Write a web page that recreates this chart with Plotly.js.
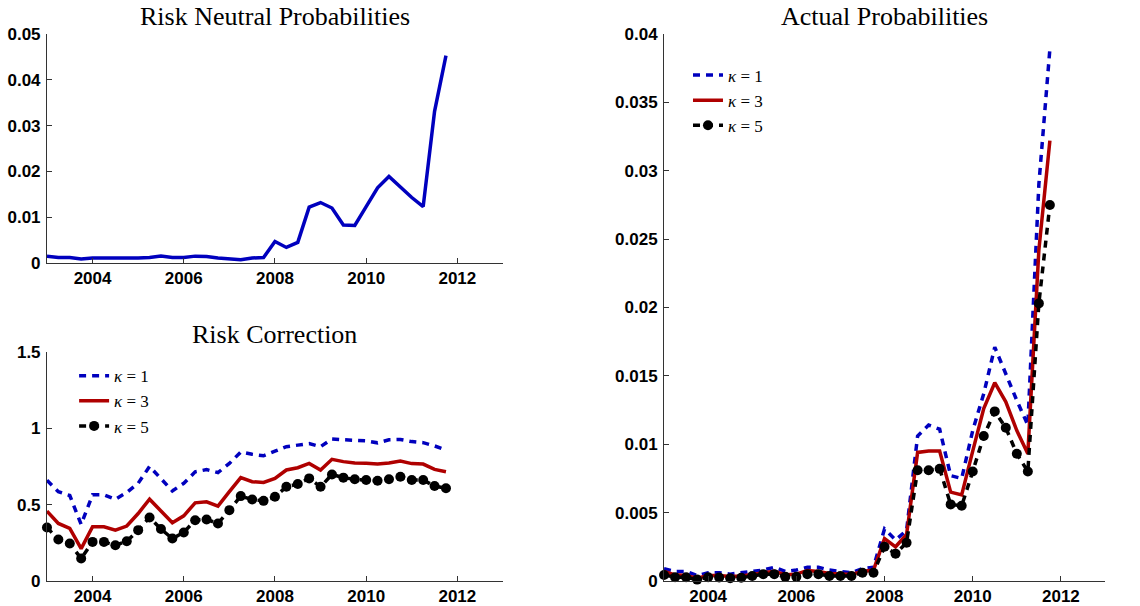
<!DOCTYPE html>
<html>
<head>
<meta charset="utf-8">
<script src="https://cdn.plot.ly/plotly-3.0.1.min.js"></script>
<style>html,body{margin:0;padding:0;background:#fff;}#chart{width:1140px;height:606px;}</style>
</head>
<body>
<div id="chart"></div>
<script>
// Quarterly dates
const dates = [2003.00,2003.25,2003.50,2003.75,2004.00,2004.25,2004.50,2004.75,
  2005.00,2005.25,2005.50,2005.75,2006.00,2006.25,2006.50,2006.75,
  2007.00,2007.25,2007.50,2007.75,2008.00,2008.25,2008.50,2008.75,
  2009.00,2009.25,2009.50,2009.75,2010.00,2010.25,2010.50,2010.75,
  2011.00,2011.25,2011.50,2011.75];

// Risk neutral probabilities
const riskNeutral = [0.0015,0.0012,0.0012,0.0009,0.0011,0.0011,0.0010,0.0010,
  0.0011,0.0012,0.0015,0.0012,0.0012,0.0015,0.0014,0.0011,
  0.0009,0.0007,0.0011,0.0012,0.0047,0.0034,0.0045,0.0122,
  0.0132,0.0120,0.0083,0.0082,0.0123,0.0164,0.0189,0.0165,
  0.0143,0.0123,0.0331,0.0453];

// Risk correction
const rcK1 = [0.66,0.585,0.56,0.37,0.565,0.565,0.535,0.58,0.64,0.75,0.67,0.59,
  0.64,0.715,0.73,0.71,0.77,0.845,0.83,0.82,0.85,0.88,0.89,0.90,
  0.88,0.93,0.925,0.92,0.918,0.905,0.925,0.927,0.913,0.906,0.885,0.858];
const rcK3 = [0.458,0.377,0.344,0.212,0.355,0.355,0.333,0.36,0.442,0.536,0.458,0.381,
  0.427,0.512,0.519,0.49,0.585,0.677,0.65,0.646,0.672,0.727,0.742,0.77,
  0.727,0.797,0.782,0.773,0.771,0.766,0.773,0.786,0.769,0.766,0.731,0.716];
const rcK5 = [0.35,0.272,0.245,0.147,0.256,0.256,0.234,0.26,0.333,0.416,0.34,0.278,
  0.318,0.398,0.403,0.377,0.464,0.556,0.534,0.525,0.552,0.617,0.635,0.672,
  0.617,0.698,0.677,0.666,0.661,0.657,0.666,0.683,0.661,0.661,0.622,0.607];

// Actual probabilities
const apK1 = [0.0009,0.0007,0.0007,0.0004,0.0006,0.0006,0.0005,0.0006,
  0.0007,0.0008,0.0010,0.0007,0.0008,0.0010,0.0010,0.0008,
  0.0007,0.0006,0.0009,0.0010,0.0038,0.0030,0.0037,0.0106,
  0.0114,0.0111,0.0077,0.0075,0.0110,0.0137,0.0171,0.0151,
  0.0132,0.0114,0.0290,0.0389];
const apK3 = [0.0007,0.00045,0.0004,0.0002,0.0004,0.0004,0.00033,0.00036,
  0.00048,0.0006,0.0007,0.00046,0.0005,0.00077,0.0007,0.00054,
  0.0005,0.00047,0.0007,0.0008,0.0031,0.0025,0.0034,0.0094,
  0.0095,0.0095,0.0065,0.0063,0.0095,0.0126,0.0145,0.0131,
  0.0110,0.0093,0.0242,0.0322];
const apK5 = [0.00044,0.00027,0.00027,0.0001,0.00027,0.00025,0.0002,0.00024,
  0.00036,0.0005,0.0005,0.0003,0.0003,0.0005,0.0005,0.00036,
  0.00036,0.00036,0.0006,0.0006,0.0025,0.0020,0.0028,0.0081,
  0.0081,0.0082,0.0056,0.0055,0.0080,0.0106,0.0124,0.0112,
  0.0093,0.0080,0.0203,0.0275];

const xTicks = [2004,2006,2008,2010,2012];
const seriesNames = ['<i>κ</i> = 1','<i>κ</i> = 3','<i>κ</i> = 5'];

const BLUE = 'rgb(0,0,190)';
const RED = 'rgb(175,0,0)';
const BLACK = '#000';

const s1 = {color:BLUE, width:3.5, dash:'7px,6px'};
const s3 = {color:RED, width:3.5};
const s5 = {color:BLACK, width:3.5, dash:'7px,6px'};
const m5 = {symbol:'circle', size:10, color:BLACK};

const traces = [
  {x:dates, y:riskNeutral, xaxis:'x', yaxis:'y', mode:'lines', line:{color:BLUE,width:3.5}, showlegend:false},

  {x:dates, y:rcK1, xaxis:'x2', yaxis:'y2', mode:'lines', line:s1, name:seriesNames[0], legend:'legend'},
  {x:dates, y:rcK3, xaxis:'x2', yaxis:'y2', mode:'lines', line:s3, name:seriesNames[1], legend:'legend'},
  {x:dates, y:rcK5, xaxis:'x2', yaxis:'y2', mode:'lines+markers', line:s5, marker:m5, name:seriesNames[2], legend:'legend', cliponaxis:false},

  {x:dates, y:apK1, xaxis:'x3', yaxis:'y3', mode:'lines', line:s1, name:seriesNames[0], legend:'legend2'},
  {x:dates, y:apK3, xaxis:'x3', yaxis:'y3', mode:'lines', line:s3, name:seriesNames[1], legend:'legend2'},
  {x:dates, y:apK5, xaxis:'x3', yaxis:'y3', mode:'lines+markers', line:s5, marker:m5, name:seriesNames[2], legend:'legend2', cliponaxis:false}
];

const tickFont = {family:'Liberation Sans, Arial, sans-serif', size:17, color:'#000', weight:'bold'};
function xa(domain, anchor){
  return {domain:domain, anchor:anchor, range:[2003,2013], tickmode:'array', tickvals:xTicks,
    ticktext:xTicks.map(String), showline:true, linecolor:'#333', linewidth:1, ticks:'inside',
    ticklen:5, tickcolor:'#333', showgrid:false, zeroline:false, tickfont:tickFont, fixedrange:true};
}
function ya(domain, anchor, range, dtick){
  return {domain:domain, anchor:anchor, range:range, tick0:0, dtick:dtick, showline:true,
    linecolor:'#333', linewidth:1, ticks:'inside', ticklen:5, tickcolor:'#333', showgrid:false,
    zeroline:false, tickfont:tickFont, fixedrange:true, ticklabelstandoff:2};
}
const titleFont = {family:'Liberation Serif, Times New Roman, serif', size:26, color:'#000'};
const legFont = {family:'Liberation Serif, Times New Roman, serif', size:17, color:'#000'};

const layout = {
  width:1140, height:606, margin:{l:0,r:0,t:0,b:0},
  paper_bgcolor:'#fff', plot_bgcolor:'#fff', showlegend:true,
  xaxis: xa([0.0412,0.4412],'y'),
  yaxis: ya([0.566,0.9439],'x',[0,0.05],0.01),
  xaxis2: xa([0.0412,0.4412],'y2'),
  yaxis2: ya([0.0413,0.4191],'x2',[0,1.5],0.5),
  xaxis3: xa([0.5825,0.9693],'y3'),
  yaxis3: ya([0.0413,0.9439],'x3',[0,0.04],0.005),
  legend:{x:0.065, y:0.409, xanchor:'left', yanchor:'top', bgcolor:'rgba(0,0,0,0)', font:legFont, tracegroupgap:0},
  legend2:{x:0.6035, y:0.905, xanchor:'left', yanchor:'top', bgcolor:'rgba(0,0,0,0)', font:legFont, tracegroupgap:0},
  annotations:[
    {text:'Risk Neutral Probabilities', xref:'paper', yref:'paper', x:0.2412, y:0.972, xanchor:'center', yanchor:'middle', showarrow:false, font:titleFont},
    {text:'Risk Correction', xref:'paper', yref:'paper', x:0.2412, y:0.4488, xanchor:'center', yanchor:'middle', showarrow:false, font:titleFont},
    {text:'Actual Probabilities', xref:'paper', yref:'paper', x:0.7759, y:0.972, xanchor:'center', yanchor:'middle', showarrow:false, font:titleFont}
  ]
};

Plotly.newPlot('chart', traces, layout, {displayModeBar:false, staticPlot:true});
</script>
</body>
</html>
